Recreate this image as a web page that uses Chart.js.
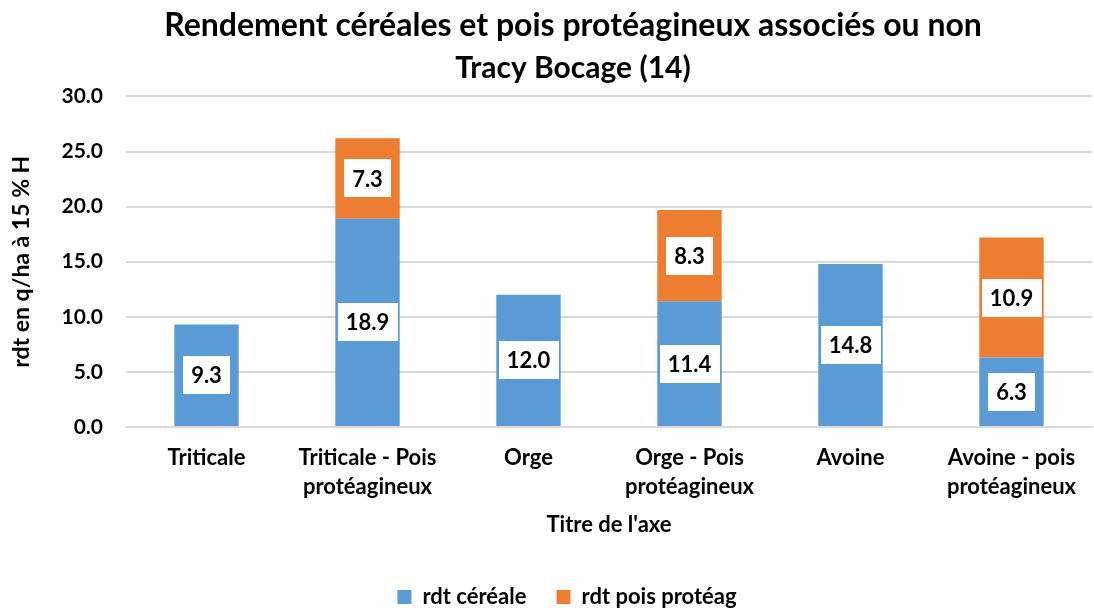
<!DOCTYPE html>
<html>
<head>
<meta charset="utf-8">
<script src="https://cdn.jsdelivr.net/npm/chart.js@4"></script>
<style>
  html, body { margin: 0; padding: 0; background: #fff; }
  #wrap { width: 1094px; height: 608px; }
</style>
</head>
<body>
<div id="wrap"><canvas id="rdtChart"></canvas></div>
<script>
// data
const categories = [
  "Triticale",
  ["Triticale - Pois", "protéagineux"],
  "Orge",
  ["Orge - Pois", "protéagineux"],
  "Avoine",
  ["Avoine - pois", "protéagineux"]
];
const rdtCereale = [9.3, 18.9, 12.0, 11.4, 14.8, 6.3];
const rdtPois = [null, 7.3, null, 8.3, null, 10.9];
const yTicks = [0, 5, 10, 15, 20, 25, 30];

const FONT = "Lato, 'Open Sans', sans-serif";

// white boxes with value in the middle of each segment
const boxLabels = {
  id: "boxLabels",
  afterDatasetsDraw(chart) {
    const ctx = chart.ctx;
    ctx.save();
    ctx.font = "bold 22px " + FONT;
    ctx.textAlign = "center";
    ctx.textBaseline = "middle";
    chart.data.datasets.forEach((ds, i) => {
      const meta = chart.getDatasetMeta(i);
      meta.data.forEach((bar, j) => {
        const v = ds.data[j];
        if (v == null) return;
        const txt = v.toFixed(1);
        const w = ctx.measureText(txt).width + 16;
        const h = 38;
        const cy = (bar.y + bar.base) / 2;
        ctx.fillStyle = "#fff";
        ctx.fillRect(Math.round(bar.x - w / 2), Math.round(cy - h / 2), Math.round(w), h);
        ctx.fillStyle = "#000";
        ctx.fillText(txt, bar.x, cy + 1);
      });
    });
    ctx.restore();
  }
};

// titles and legend sit a bit right of the canvas centre in the original
const nudge = {
  id: "nudge",
  afterLayout(chart) {
    chart.boxes.forEach(b => {
      if (b.position === "top" && b.fullSize) { b.left += 25; b.right += 25; }
      if (b === chart.legend) { b.left += 19; b.right += 19; }
    });
  }
};

new Chart(document.getElementById("rdtChart"), {
  type: "bar",
  data: {
    labels: categories,
    datasets: [
      { label: "rdt céréale", data: rdtCereale, backgroundColor: "#5B9BD5" },
      { label: "rdt pois protéag", data: rdtPois, backgroundColor: "#ED7D31" }
    ]
  },
  options: {
    responsive: true,
    maintainAspectRatio: false,
    animation: false,
    categoryPercentage: 0.8,
    barPercentage: 0.5,
    layout: { padding: { left: 4, right: 2, top: 0, bottom: -10 } },
    plugins: {
      title: {
        display: true,
        text: "Rendement céréales et pois protéagineux associés ou non",
        color: "#000",
        font: { family: FONT, size: 32, weight: "bold" },
        padding: { top: 6, bottom: 6 }
      },
      subtitle: {
        display: true,
        text: "Tracy Bocage (14)",
        color: "#000",
        font: { family: FONT, size: 30, weight: "bold" },
        padding: { bottom: 10 }
      },
      legend: {
        position: "bottom",
        labels: {
          color: "#000",
          font: { family: FONT, size: 22, weight: "bold" },
          boxWidth: 14,
          boxHeight: 14,
          padding: 30
        }
      },
      tooltip: { enabled: false }
    },
    scales: {
      x: {
        stacked: true,
        afterFit: scale => { scale.height = 129; },
        grid: { display: false, drawTicks: false },
        border: { color: "#D9D9D9", width: 2 },
        ticks: {
          color: "#000",
          font: { family: FONT, size: 22, weight: "bold", lineHeight: 1.3 },
          maxRotation: 0,
          padding: 17
        },
        title: {
          display: true,
          text: "Titre de l'axe",
          color: "#000",
          font: { family: FONT, size: 22, weight: "bold" },
          padding: { top: 12, bottom: 18 }
        }
      },
      y: {
        stacked: true,
        min: 0,
        max: 30,
        afterFit: scale => { scale.width = 122; },
        afterBuildTicks: axis => { axis.ticks = yTicks.map(v => ({ value: v })); },
        grid: { color: "#D9D9D9", lineWidth: 2, drawTicks: false },
        border: { display: false },
        ticks: {
          color: "#000",
          font: { family: FONT, size: 21, weight: "bold" },
          padding: 23,
          callback: v => v.toFixed(1)
        },
        title: {
          display: true,
          text: "rdt en q/ha à 15 % H",
          color: "#000",
          font: { family: FONT, size: 23, weight: "bold" },
          padding: { top: 4, bottom: 24 }
        }
      }
    }
  },
  plugins: [boxLabels, nudge]
});
</script>
</body>
</html>
